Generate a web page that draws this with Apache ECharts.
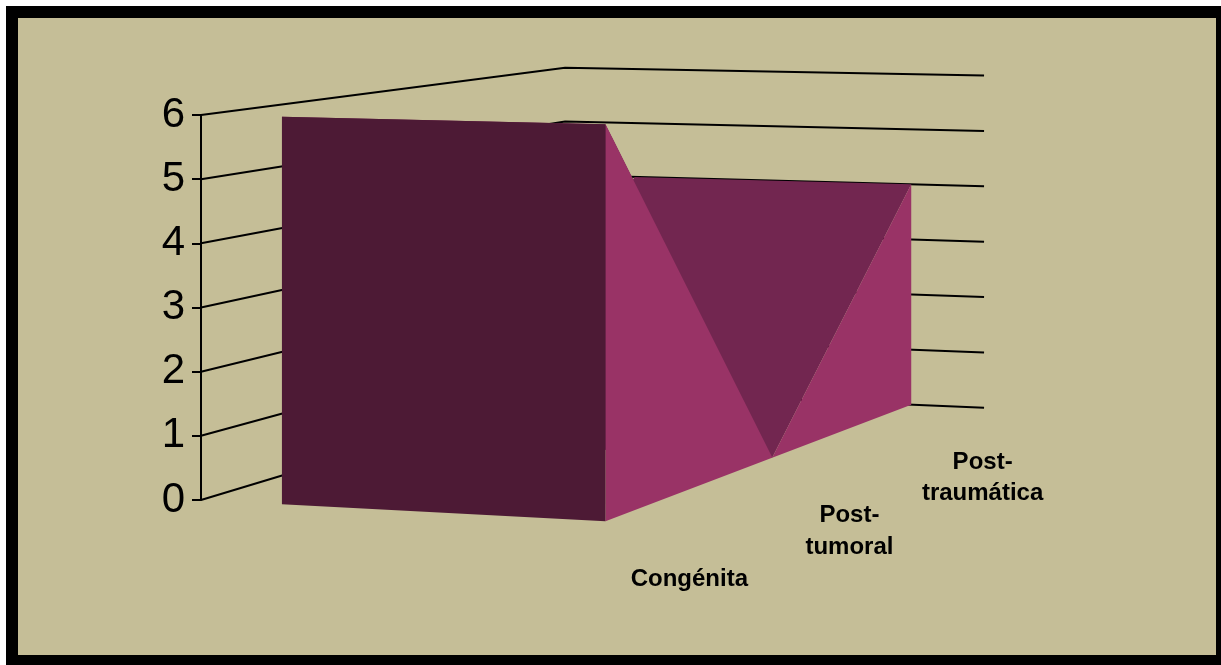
<!DOCTYPE html>
<html>
<head>
<meta charset="utf-8">
<script src="https://cdn.jsdelivr.net/npm/echarts@6/dist/echarts.min.js"></script>
<style>
  html, body { margin: 0; padding: 0; background: #ffffff; }
  #chart { width: 1221px; height: 665px; }
</style>
</head>
<body>
<div id="chart"></div>
<script>
// ---- data ----
const categories = ['Congénita', 'Post-tumoral', 'Post-traumática'];
const values = [6, 0, 4];
const valueTicks = [0, 1, 2, 3, 4, 5, 6];
const valueMin = 0;
const valueMax = 6;

// ---- layout / projection constants (3D view) ----
const GRID_LEFT = 201, GRID_TOP = 115, GRID_BOTTOM = 165;
const C1 = 0.1948, C2 = -0.03;      // depth divisor terms
const A1 = 474.1, A2 = 386.3;       // x shift per unit along category / series depth
const B1 = -34.1, B2 = 5.5;         // y shift per unit along category / series depth
const W_FAR = 0.205, W_NEAR = 1.0, W_WALL_END = 1.204, W_LABEL = 1.2;
const LABEL_OFFSET = 38.5;
const BG = '#C5BE97';
const COL_FRONT = '#4D1A35';
const COL_SIDE = '#993366';
const COL_TOP = '#722650';

function proj(api, u, w, v) {
  const p = api.coord([0, v]);
  const d = 1 + C1 * u + C2 * w;
  return [(p[0] + A1 * u + A2 * w) / d, (p[1] + B1 * u + B2 * w) / d];
}
const n = categories.length;
const uOf = i => i / (n - 1);

const chart = echarts.init(document.getElementById('chart'), null, { renderer: 'canvas' });

const option = {
  animation: false,
  backgroundColor: '#ffffff',
  graphic: {
    elements: [{
      type: 'rect', z: -10, silent: true,
      shape: { x: 12, y: 12, width: 1210, height: 649 },
      style: { fill: BG, stroke: '#000', lineWidth: 12 }
    }]
  },
  grid: { left: GRID_LEFT, top: GRID_TOP, bottom: GRID_BOTTOM, width: 700, containLabel: false },
  xAxis: { type: 'value', min: 0, max: 1, show: false },
  yAxis: {
    type: 'value', min: valueMin, max: valueMax, interval: 1,
    axisLine: { show: true, lineStyle: { color: '#000', width: 2 } },
    axisTick: { show: true, length: 9, lineStyle: { color: '#000', width: 2 } },
    axisLabel: { margin: 16, color: '#000', fontSize: 42, fontFamily: '"Liberation Sans", Arial, sans-serif' },
    splitLine: { show: false }
  },
  series: [
    { // wall gridlines
      type: 'custom', z: 2, clip: false, silent: true,
      data: valueTicks.map(t => [0, t]),
      renderItem: function (params, api) {
        const v = api.value(1);
        const left = [proj(api, 0, W_FAR * 0, v), proj(api, 1, 0, v)];
        const back = [proj(api, 1, 0, v), proj(api, 1, W_WALL_END, v)];
        return { type: 'group', children: [
          { type: 'polyline', shape: { points: left.concat(back.slice(1)) },
            style: { stroke: '#000', lineWidth: 2, fill: null } }
        ] };
      }
    },
    { // top (sloped) surfaces of the area ribbon
      type: 'custom', z: 3, clip: false, silent: true,
      data: values.slice(0, -1).map((v, i) => [i, v, values[i + 1]]),
      renderItem: function (params, api) {
        const i = api.value(0), v0 = api.value(1), v1 = api.value(2);
        const u0 = uOf(i), u1 = uOf(i + 1);
        const pts = [proj(api, u0, W_FAR, v0), proj(api, u0, W_NEAR, v0),
                     proj(api, u1, W_NEAR, v1), proj(api, u1, W_FAR, v1)];
        return { type: 'polygon', shape: { points: pts }, style: { fill: COL_TOP } };
      }
    },
    { // near side face of the ribbon
      type: 'custom', z: 4, clip: false, silent: true,
      data: [[0, 0]],
      renderItem: function (params, api) {
        const pts = [proj(api, uOf(0), W_NEAR, 0)];
        values.forEach((v, i) => pts.push(proj(api, uOf(i), W_NEAR, v)));
        pts.push(proj(api, uOf(n - 1), W_NEAR, 0));
        return { type: 'polygon', shape: { points: pts }, style: { fill: COL_SIDE } };
      }
    },
    { // front end cap
      type: 'custom', z: 5, clip: false, silent: true,
      data: [[0, values[0]]],
      renderItem: function (params, api) {
        const v = api.value(1);
        const pts = [proj(api, 0, W_FAR, 0), proj(api, 0, W_FAR, v),
                     proj(api, 0, W_NEAR, v), proj(api, 0, W_NEAR, 0)];
        return { type: 'polygon', shape: { points: pts }, style: { fill: COL_FRONT } };
      }
    },
    { // category labels
      type: 'custom', z: 6, clip: false, silent: true,
      data: categories.map((c, i) => [i, 0]),
      renderItem: function (params, api) {
        const i = api.value(0);
        const p = proj(api, uOf(i), W_LABEL, 0);
        return { type: 'text', x: p[0], y: p[1] + LABEL_OFFSET,
          style: { text: categories[i].replace('-', '-\n'), fill: '#000',
            fontSize: 24, fontWeight: 'bold', fontFamily: '"Liberation Sans", Arial, sans-serif',
            align: 'center', verticalAlign: 'top', lineHeight: 31.5 } };
      }
    }
  ]
};
chart.setOption(option);
</script>
</body>
</html>
